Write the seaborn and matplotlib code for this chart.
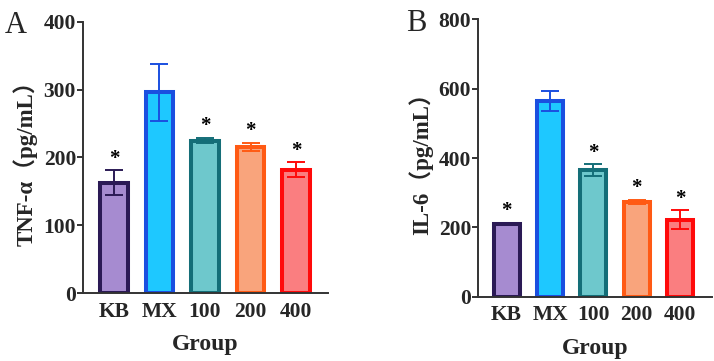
import numpy as np
import pandas as pd
import matplotlib
matplotlib.use("Agg")
import matplotlib.pyplot as plt
import seaborn as sns

groups = ["KB", "MX", "100", "200", "400"]
tnf_mean = [163, 296, 225, 216, 182]
tnf_err = [18, 42, 4, 6, 11]
il6_mean = [210, 565, 365, 273, 222]
il6_err = [3, 28, 17, 7, 28]
star_flags = [True, False, True, True, True]
fill_colors = ["#A68BD0", "#1EC8FF", "#6EC8CC", "#F9A47C", "#FA7E80"]
edge_colors = ["#2B1A55", "#1A4FE0", "#146E78", "#FF5A14", "#FF0A0A"]

sns.set_theme(style="ticks")
plt.rcParams["font.family"] = ["Liberation Serif", "Noto Sans CJK SC"]

fig = plt.figure(figsize=(7.14, 3.61), dpi=100)
axA = fig.add_axes([0.1162, 0.1875, 0.3431, 0.7525])
axB = fig.add_axes([0.6695, 0.178, 0.328, 0.7685])

def draw(ax, means, errs, ymax, ylabel, xlim, lab_x):
    df = pd.DataFrame({"Group": groups, "val": means})
    sns.barplot(data=df, x="Group", y="val", hue="Group", palette=fill_colors,
                errorbar=None, width=0.6, legend=False, ax=ax, linewidth=2.9,
                saturation=1)
    for p, ec in zip(ax.patches, edge_colors):
        p.set_edgecolor(ec)
        p.set_linewidth(2.9)
    for i, (m, e) in enumerate(zip(means, errs)):
        ax.errorbar(i, m, yerr=e, color=edge_colors[i], capsize=6.5,
                    elinewidth=1.4, capthick=1.4, zorder=5)
        if star_flags[i]:
            ax.annotate("*", xy=(i, m + e), xytext=(0, 1), textcoords="offset points",
                        ha="center", va="bottom", fontsize=15, fontweight="bold",
                        color="black")
    ax.set_ylim(0, ymax)
    ax.set_yticks(np.linspace(0, ymax, 5))
    ax.set_xlim(*xlim)
    for s in ["top", "right"]:
        ax.spines[s].set_visible(False)
    for s in ["left", "bottom"]:
        ax.spines[s].set_linewidth(1.4)
        ax.spines[s].set_color("#333333")
    ax.tick_params(axis="y", direction="out", length=4, width=1.4, color="#333333",
                   labelsize=15.5, pad=1)
    ax.tick_params(axis="x", direction="in", length=4, width=1.2, color="#333333",
                   labelsize=15.5, pad=6)
    for t in ax.get_xticklabels() + ax.get_yticklabels():
        t.set_fontweight("bold")
    ax.set_xlabel("Group", fontsize=17, fontweight="bold", labelpad=9)
    ax.set_ylabel(ylabel, fontsize=16.5, fontweight="bold")
    ax.yaxis.set_label_coords(lab_x, 0.5)

draw(axA, tnf_mean, tnf_err, 400, "TNF-α（pg/mL）", (-0.68, 4.70), -0.185)
draw(axB, il6_mean, il6_err, 800, "IL-6（pg/mL）", (-0.66, 4.74), -0.19)

fig.text(5 / 714, 1 - 33 / 361, "A", fontsize=22, family="Liberation Serif")
fig.text(406 / 714, 1 - 31 / 361, "B", fontsize=22, family="Liberation Serif")

fig.savefig("out.png", dpi=100, facecolor="white")
